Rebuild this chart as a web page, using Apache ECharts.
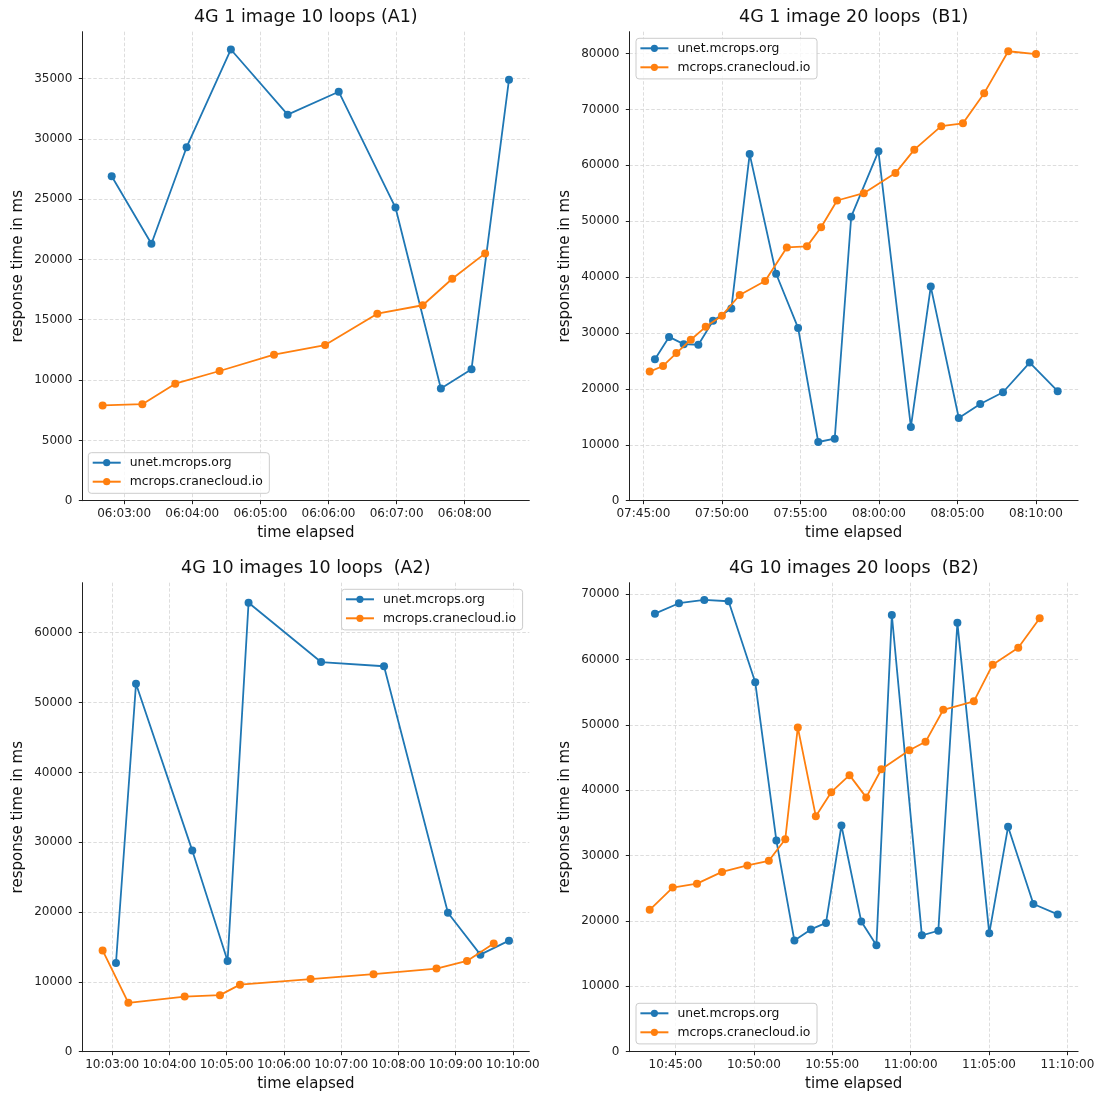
<!DOCTYPE html>
<html><head><meta charset="utf-8">
<script src="https://cdn.jsdelivr.net/npm/echarts@6/dist/echarts.min.js"></script>
<style>html,body{margin:0;padding:0;background:#fff}#c{width:1097px;height:1097px}</style>
</head><body><div id="c"></div>
<script>
const seriesNames = ['unet.mcrops.org', 'mcrops.cranecloud.io'];
const panelTitles = ['4G 1 image 10 loops (A1)', '4G 1 image 20 loops  (B1)', '4G 10 images 10 loops  (A2)', '4G 10 images 20 loops  (B2)'];
const xAxisName = 'time elapsed';
const yAxisName = 'response time in ms';

// A1
const a1UnetTimes = ['06:02:49','06:03:24','06:03:55','06:04:34','06:05:24','06:06:09','06:06:59','06:07:39','06:08:06','06:08:39'];
const a1UnetMs = [26900, 21300, 29300, 37400, 32000, 33900, 24300, 9300, 10900, 34900];
const a1CraneTimes = ['06:02:41','06:03:16','06:03:45','06:04:24','06:05:12','06:05:57','06:06:43','06:07:23','06:07:49','06:08:18'];
const a1CraneMs = [7900, 8000, 9700, 10750, 12100, 12900, 15500, 16200, 18400, 20500];
const a1XTicks = ['06:03:00','06:04:00','06:05:00','06:06:00','06:07:00','06:08:00'];
const a1YTicks = [0, 5000, 10000, 15000, 20000, 25000, 30000, 35000];

// B1
const b1UnetTimes = ['07:45:44','07:46:38','07:47:34','07:48:30','07:49:26','07:50:36','07:51:46','07:53:27','07:54:51','07:56:08','07:57:11','07:58:14','07:59:58','08:02:02','08:03:18','08:05:05','08:06:27','08:07:54','08:09:36','08:11:23'];
const b1UnetMs = [25300, 29300, 28000, 27900, 32200, 34400, 62000, 40600, 30900, 10500, 11100, 50800, 62500, 13200, 38300, 14800, 17300, 19400, 24700, 19600];
const b1CraneTimes = ['07:45:24','07:46:15','07:47:06','07:48:01','07:48:58','07:50:00','07:51:08','07:52:45','07:54:08','07:55:25','07:56:19','07:57:20','07:59:02','08:01:03','08:02:15','08:03:58','08:05:21','08:06:42','08:08:14','08:10:00'];
const b1CraneMs = [23100, 24100, 26400, 28800, 31100, 33100, 36800, 39300, 45300, 45500, 48900, 53700, 55000, 58600, 62800, 67000, 67500, 72900, 80400, 79900];
const b1XTicks = ['07:45:00','07:50:00','07:55:00','08:00:00','08:05:00','08:10:00'];
const b1YTicks = [0, 10000, 20000, 30000, 40000, 50000, 60000, 70000, 80000];

// A2
const a2UnetTimes = ['10:03:04','10:03:25','10:04:24','10:05:01','10:05:23','10:06:39','10:07:45','10:08:52','10:09:26','10:09:56'];
const a2UnetMs = [12700, 52700, 28800, 13000, 64300, 55800, 55200, 19900, 13900, 15900];
const a2CraneTimes = ['10:02:50','10:03:17','10:04:16','10:04:53','10:05:14','10:06:28','10:07:34','10:08:40','10:09:12','10:09:40'];
const a2CraneMs = [14500, 7000, 7900, 8100, 9600, 10400, 11100, 11900, 13000, 15500];
const a2XTicks = ['10:03:00','10:04:00','10:05:00','10:06:00','10:07:00','10:08:00','10:09:00','10:10:00'];
const a2YTicks = [0, 10000, 20000, 30000, 40000, 50000, 60000];

// B2
const b2UnetTimes = ['10:43:41','10:45:13','10:46:50','10:48:23','10:50:05','10:51:26','10:52:35','10:53:38','10:54:36','10:55:35','10:56:51','10:57:49','10:58:48','11:00:43','11:01:46','11:02:59','11:05:01','11:06:13','11:07:50','11:09:23'];
const b2UnetMs = [67000, 68600, 69100, 68900, 56500, 32300, 17000, 18700, 19700, 34600, 19900, 16300, 66800, 17800, 18500, 65600, 18100, 34400, 22600, 21000];
const b2CraneTimes = ['10:43:21','10:44:49','10:46:22','10:47:58','10:49:35','10:50:57','10:52:00','10:52:48','10:53:57','10:54:56','10:56:06','10:57:10','10:58:08','10:59:55','11:00:57','11:02:05','11:04:02','11:05:14','11:06:52','11:08:14'];
const b2CraneMs = [21700, 25100, 25700, 27500, 28500, 29200, 32500, 49600, 36000, 39700, 42300, 38900, 43200, 46100, 47400, 52300, 53600, 59200, 61800, 66300];
const b2XTicks = ['10:45:00','10:50:00','10:55:00','11:00:00','11:05:00','11:10:00'];
const b2YTicks = [0, 10000, 20000, 30000, 40000, 50000, 60000, 70000];

const COLORS = ['#1f77b4', '#ff7f0e'];
const FONT = 'DejaVu Sans';

function toSec(s) { const p = s.split(':').map(Number); return p[0] * 3600 + p[1] * 60 + p[2]; }
function fmt(v) { v = Math.round(v); const h = Math.floor(v / 3600), m = Math.floor((v % 3600) / 60), s = v % 60; return [h, m, s].map(x => String(x).padStart(2, '0')).join(':'); }

const panels = [
  { unetT: a1UnetTimes, unetV: a1UnetMs, craneT: a1CraneTimes, craneV: a1CraneMs, xt: a1XTicks, yt: a1YTicks,
    grid: { left: 82.3, top: 31.7, width: 447, height: 469 }, legend: { left: 88.3, top: 452.7 } },
  { unetT: b1UnetTimes, unetV: b1UnetMs, craneT: b1CraneTimes, craneV: b1CraneMs, xt: b1XTicks, yt: b1YTicks,
    grid: { left: 629.3, top: 31.7, width: 448.8, height: 469 }, legend: { left: 636, top: 38.3 } },
  { unetT: a2UnetTimes, unetV: a2UnetMs, craneT: a2CraneTimes, craneV: a2CraneMs, xt: a2XTicks, yt: a2YTicks,
    grid: { left: 82.3, top: 582.7, width: 447, height: 469 }, legend: { right: 1097 - 522.6, top: 589.3 } },
  { unetT: b2UnetTimes, unetV: b2UnetMs, craneT: b2CraneTimes, craneV: b2CraneMs, xt: b2XTicks, yt: b2YTicks,
    grid: { left: 629.3, top: 582.7, width: 448.8, height: 469 }, legend: { left: 636, top: 1003.3 } }
];

const axisLineStyle = { color: '#222', width: 1 };
const gridLineStyle = { color: '#d4d4d4', width: 0.8, type: [3.5, 2] };

const option = {
  animation: false,
  backgroundColor: '#fff',
  title: [], grid: [], xAxis: [], yAxis: [], series: [], legend: []
};

panels.forEach((p, i) => {
  option.grid.push(Object.assign({ containLabel: false, outerBoundsMode: 'none' }, p.grid));
  option.title.push({
    text: panelTitles[i], left: p.grid.left + p.grid.width / 2, top: p.grid.top - 23, textAlign: 'center', padding: 0,
    textStyle: { fontFamily: FONT, fontSize: 17.5, fontWeight: 'normal', color: '#111' }
  });
  const xtv = p.xt.map(toSec);
  option.xAxis.push({
    type: 'value', gridIndex: i, scale: true,
    min: v => v.min - 0.05 * (v.max - v.min),
    max: v => v.max + 0.05 * (v.max - v.min),
    name: xAxisName, nameLocation: 'middle', nameGap: 25,
    nameTextStyle: { fontFamily: FONT, fontSize: 15, color: '#111' },
    axisLine: { show: true, onZero: false, lineStyle: axisLineStyle },
    axisTick: { show: true, length: 3.5, customValues: xtv, lineStyle: axisLineStyle },
    axisLabel: { customValues: xtv, formatter: fmt, margin: 7, fontFamily: FONT, fontSize: 12, color: '#222' },
    splitLine: { show: true, lineStyle: gridLineStyle }
  });
  option.yAxis.push({
    type: 'value', gridIndex: i, min: 0,
    max: v => v.max + 0.05 * (v.max - v.min),
    name: yAxisName, nameLocation: 'middle', nameGap: 57,
    nameTextStyle: { fontFamily: FONT, fontSize: 15, color: '#111' },
    axisLine: { show: true, onZero: false, lineStyle: axisLineStyle },
    axisTick: { show: true, length: 3.5, customValues: p.yt, lineStyle: axisLineStyle },
    axisLabel: { customValues: p.yt, formatter: v => String(v), margin: 10, fontFamily: FONT, fontSize: 12, color: '#222' },
    splitLine: { show: true, lineStyle: gridLineStyle }
  });
  const pairs = [[p.unetT, p.unetV], [p.craneT, p.craneV]];
  pairs.forEach((pr, k) => {
    option.series.push({
      type: 'line', name: seriesNames[k], xAxisIndex: i, yAxisIndex: i,
      data: pr[0].map((t, j) => [toSec(t), pr[1][j]]),
      symbol: 'circle', symbolSize: 8, showSymbol: true,
      lineStyle: { color: COLORS[k], width: 1.8 },
      itemStyle: { color: COLORS[k] },
      emphasis: { disabled: true }, z: 2 + k
    });
  });
  option.legend.push(Object.assign({
    orient: 'vertical', data: seriesNames.slice(), selectedMode: false,
    itemWidth: 28, itemHeight: 9, itemGap: 7,
    padding: [4, 6.6, 5.6, 3.4],
    backgroundColor: 'rgba(255,255,255,0.8)', borderColor: '#cccccc', borderWidth: 1, borderRadius: 3,
    textStyle: { fontFamily: FONT, fontSize: 12.4, color: '#111', lineHeight: 12, padding: [0, 0, 0, 4] }
  }, p.legend));
});

const chart = echarts.init(document.getElementById('c'), null, { renderer: 'canvas' });
chart.setOption(option);
</script>
</body></html>
